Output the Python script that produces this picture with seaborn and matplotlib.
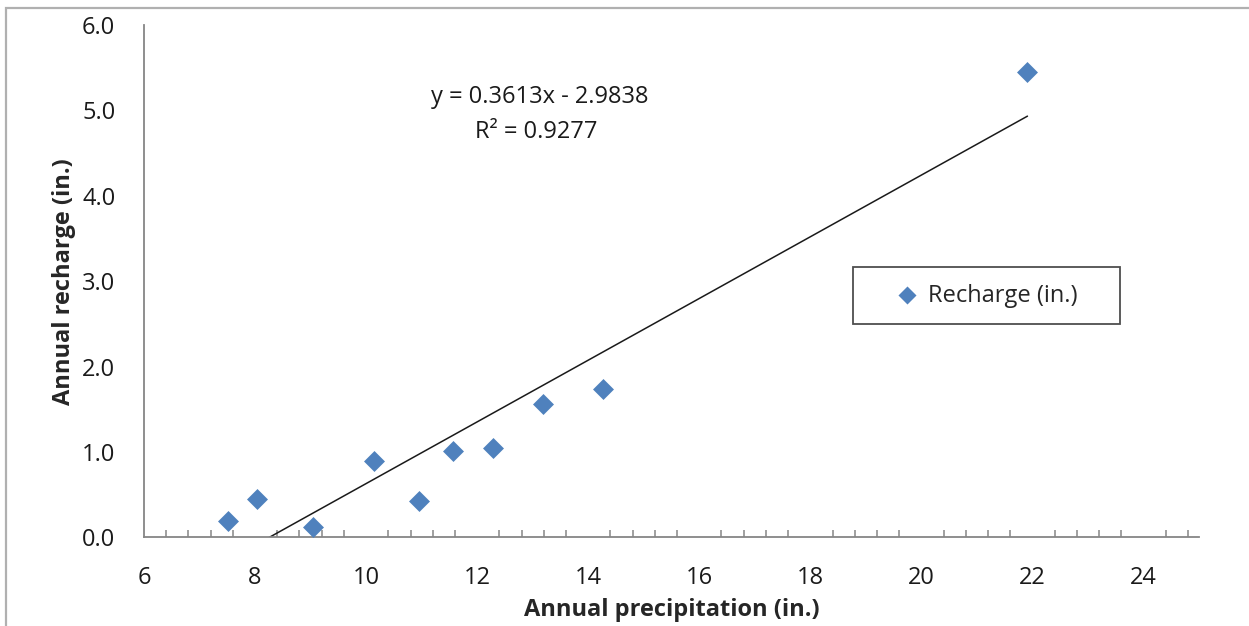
import numpy as np
import pandas as pd
import seaborn as sns
import matplotlib.pyplot as plt
from matplotlib.patches import Rectangle
from matplotlib.ticker import MultipleLocator

# values
precip = [7.51, 8.04, 9.05, 10.15, 10.96, 11.57, 12.28, 13.19, 14.27, 21.91]
recharge = [0.19, 0.45, 0.12, 0.89, 0.43, 1.01, 1.05, 1.56, 1.74, 5.45]
slope = 0.3613
intercept = -2.9838
r2 = 0.9277
x_ticks = [6, 8, 10, 12, 14, 16, 18, 20, 22, 24]
y_ticks = [0.0, 1.0, 2.0, 3.0, 4.0, 5.0, 6.0]

df = pd.DataFrame({"precip": precip, "recharge": recharge})
trend_x = np.array([min(precip), max(precip)])
trend = pd.DataFrame({"x": trend_x, "y": slope * trend_x + intercept})

sns.set_style("white")
plt.rcParams['font.family'] = ['Open Sans', 'DejaVu Sans']

fig = plt.figure(figsize=(12.49, 6.26), dpi=100)
ax = fig.add_axes([0.1153, 0.1417, 0.8447, 0.8184])

sns.lineplot(data=trend, x="x", y="y", color="#1a1a1a", linewidth=1.1, ax=ax, legend=False)
sns.scatterplot(data=df, x="precip", y="recharge", marker="D", s=114, color="#4F81BD",
                edgecolor="#4F81BD", linewidth=0, label="Recharge (in.)", ax=ax, zorder=3)

ax.set_xlim(6, 25)
ax.set_ylim(0, 6)
ax.set_xticks(x_ticks)
ax.set_yticks(y_ticks)
ax.set_yticklabels([f"{v:.1f}" for v in y_ticks])
ax.xaxis.set_minor_locator(MultipleLocator(0.4))

for side in ["top", "right"]:
    ax.spines[side].set_visible(False)
for side in ["left", "bottom"]:
    ax.spines[side].set_color("#868686")
    ax.spines[side].set_linewidth(1.3)

ax.tick_params(axis="both", which="major", direction="out", length=7.2, width=1.3,
               color="#868686", labelsize=17, labelcolor="#1a1a1a", pad=13.5)
ax.tick_params(axis="x", which="minor", direction="in", length=5, width=1.1,
               color="#868686", bottom=True)

ax.set_xlabel("Annual precipitation (in.)", fontsize=17, fontweight="bold", labelpad=6)
ax.set_ylabel("Annual recharge (in.)", fontsize=17, fontweight="bold", labelpad=4)

ax.text(13.13, 5.156, f"y = {slope}x - {abs(intercept)}", ha="center", va="center",
        fontsize=17, color="#1a1a1a")
ax.text(13.07, 4.746, f"R² = {r2}", ha="center", va="center", fontsize=17, color="#1a1a1a")

leg = ax.legend(loc="upper left", bbox_to_anchor=(0.672, 0.4276, 0.253, 0.1), mode="expand",
                borderaxespad=0, fontsize=17, frameon=True, fancybox=False, borderpad=0.7,
                handlelength=3.18, handletextpad=-0.7, markerscale=0.86)
leg.get_frame().set_edgecolor("#222222")
leg.get_frame().set_linewidth(1.3)

fig.patches.append(Rectangle((0.0045, -0.1), 1.2, 1.087, transform=fig.transFigure,
                             fill=False, edgecolor="#b0b0b0", linewidth=1.6))

fig.savefig("out.png", dpi=100)
